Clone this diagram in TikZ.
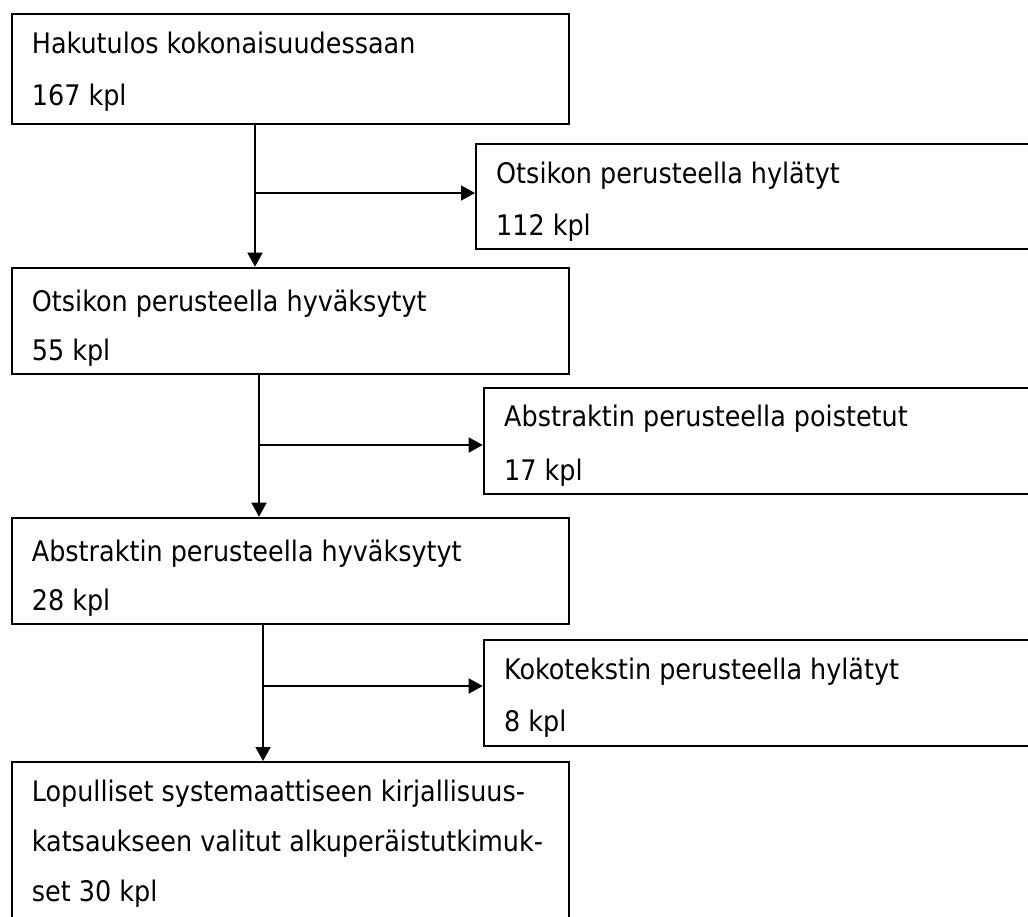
\documentclass[tikz,border=0pt]{standalone}
\usepackage{fontspec}
\setmainfont{DejaVu Sans Condensed}
\usetikzlibrary{arrows.meta}
\tikzset{
  boxnode/.style={draw=black, line width=1.8pt, rectangle, inner sep=0pt, anchor=north west},
  txt/.style={anchor=base west, inner sep=0pt, font=\fontsize{28.3}{30}\selectfont},
  arr/.style={draw=black, line width=1.8pt, -{Triangle[length=14pt,width=15pt]}}
}
\begin{document}
\begin{tikzpicture}[x=1pt,y=-1pt]
\clip (0,0) rectangle (1028,916);
% boxes
\node[boxnode, minimum width=556.7pt, minimum height=110pt] (b1) at (11,12.7) {};
\node[boxnode, minimum width=565pt, minimum height=105.6pt] (b2) at (475,142.7) {};
\node[boxnode, minimum width=556.7pt, minimum height=106pt] (b3) at (11,266.7) {};
\node[boxnode, minimum width=558pt, minimum height=106.3pt] (b4) at (482.7,386.7) {};
\node[boxnode, minimum width=556.7pt, minimum height=106pt] (b5) at (11,516.7) {};
\node[boxnode, minimum width=558pt, minimum height=105.7pt] (b6) at (482.7,639.3) {};
\node[boxnode, minimum width=556.7pt, minimum height=170pt] (b7) at (11,761) {};
% texts
\node[txt] (t1a) at (31.7,53) {Hakutulos kokonaisuudessaan};
\node[txt] (t1b) at (31.7,105) {167 kpl};
\node[txt] (t2a) at (496,183) {Otsikon perusteella hylätyt};
\node[txt] (t2b) at (496,235) {112 kpl};
\node[txt] (t3a) at (31.7,311.7) {Otsikon perusteella hyväksytyt};
\node[txt] (t3b) at (31.7,360) {55 kpl};
\node[txt] (t4a) at (504,426.7) {Abstraktin perusteella poistetut};
\node[txt] (t4b) at (504,480) {17 kpl};
\node[txt] (t5a) at (31.7,561.7) {Abstraktin perusteella hyväksytyt};
\node[txt] (t5b) at (31.7,610) {28 kpl};
\node[txt] (t6a) at (504,679) {Kokotekstin perusteella hylätyt};
\node[txt] (t6b) at (504,731.7) {8 kpl};
\node[txt] (t7a) at (31.7,801.7) {Lopulliset systemaattiseen kirjallisuus-};
\node[txt] (t7b) at (31.7,851.7) {katsaukseen valitut alkuperäistutkimuk-};
\node[txt] (t7c) at (31.7,901.7) {set 30 kpl};
% junctions
\coordinate (j1) at (255,193);
\coordinate (j2) at (259,445);
\coordinate (j3) at (263,686);
% connectors
\draw[arr] (b1.south -| j1) -- (b3.north -| j1);
\draw[arr] (j1) -- (j1 -| b2.west);
\draw[arr] (b3.south -| j2) -- (b5.north -| j2);
\draw[arr] (j2) -- (j2 -| b4.west);
\draw[arr] (b5.south -| j3) -- (b7.north -| j3);
\draw[arr] (j3) -- (j3 -| b6.west);
\end{tikzpicture}
\end{document}
